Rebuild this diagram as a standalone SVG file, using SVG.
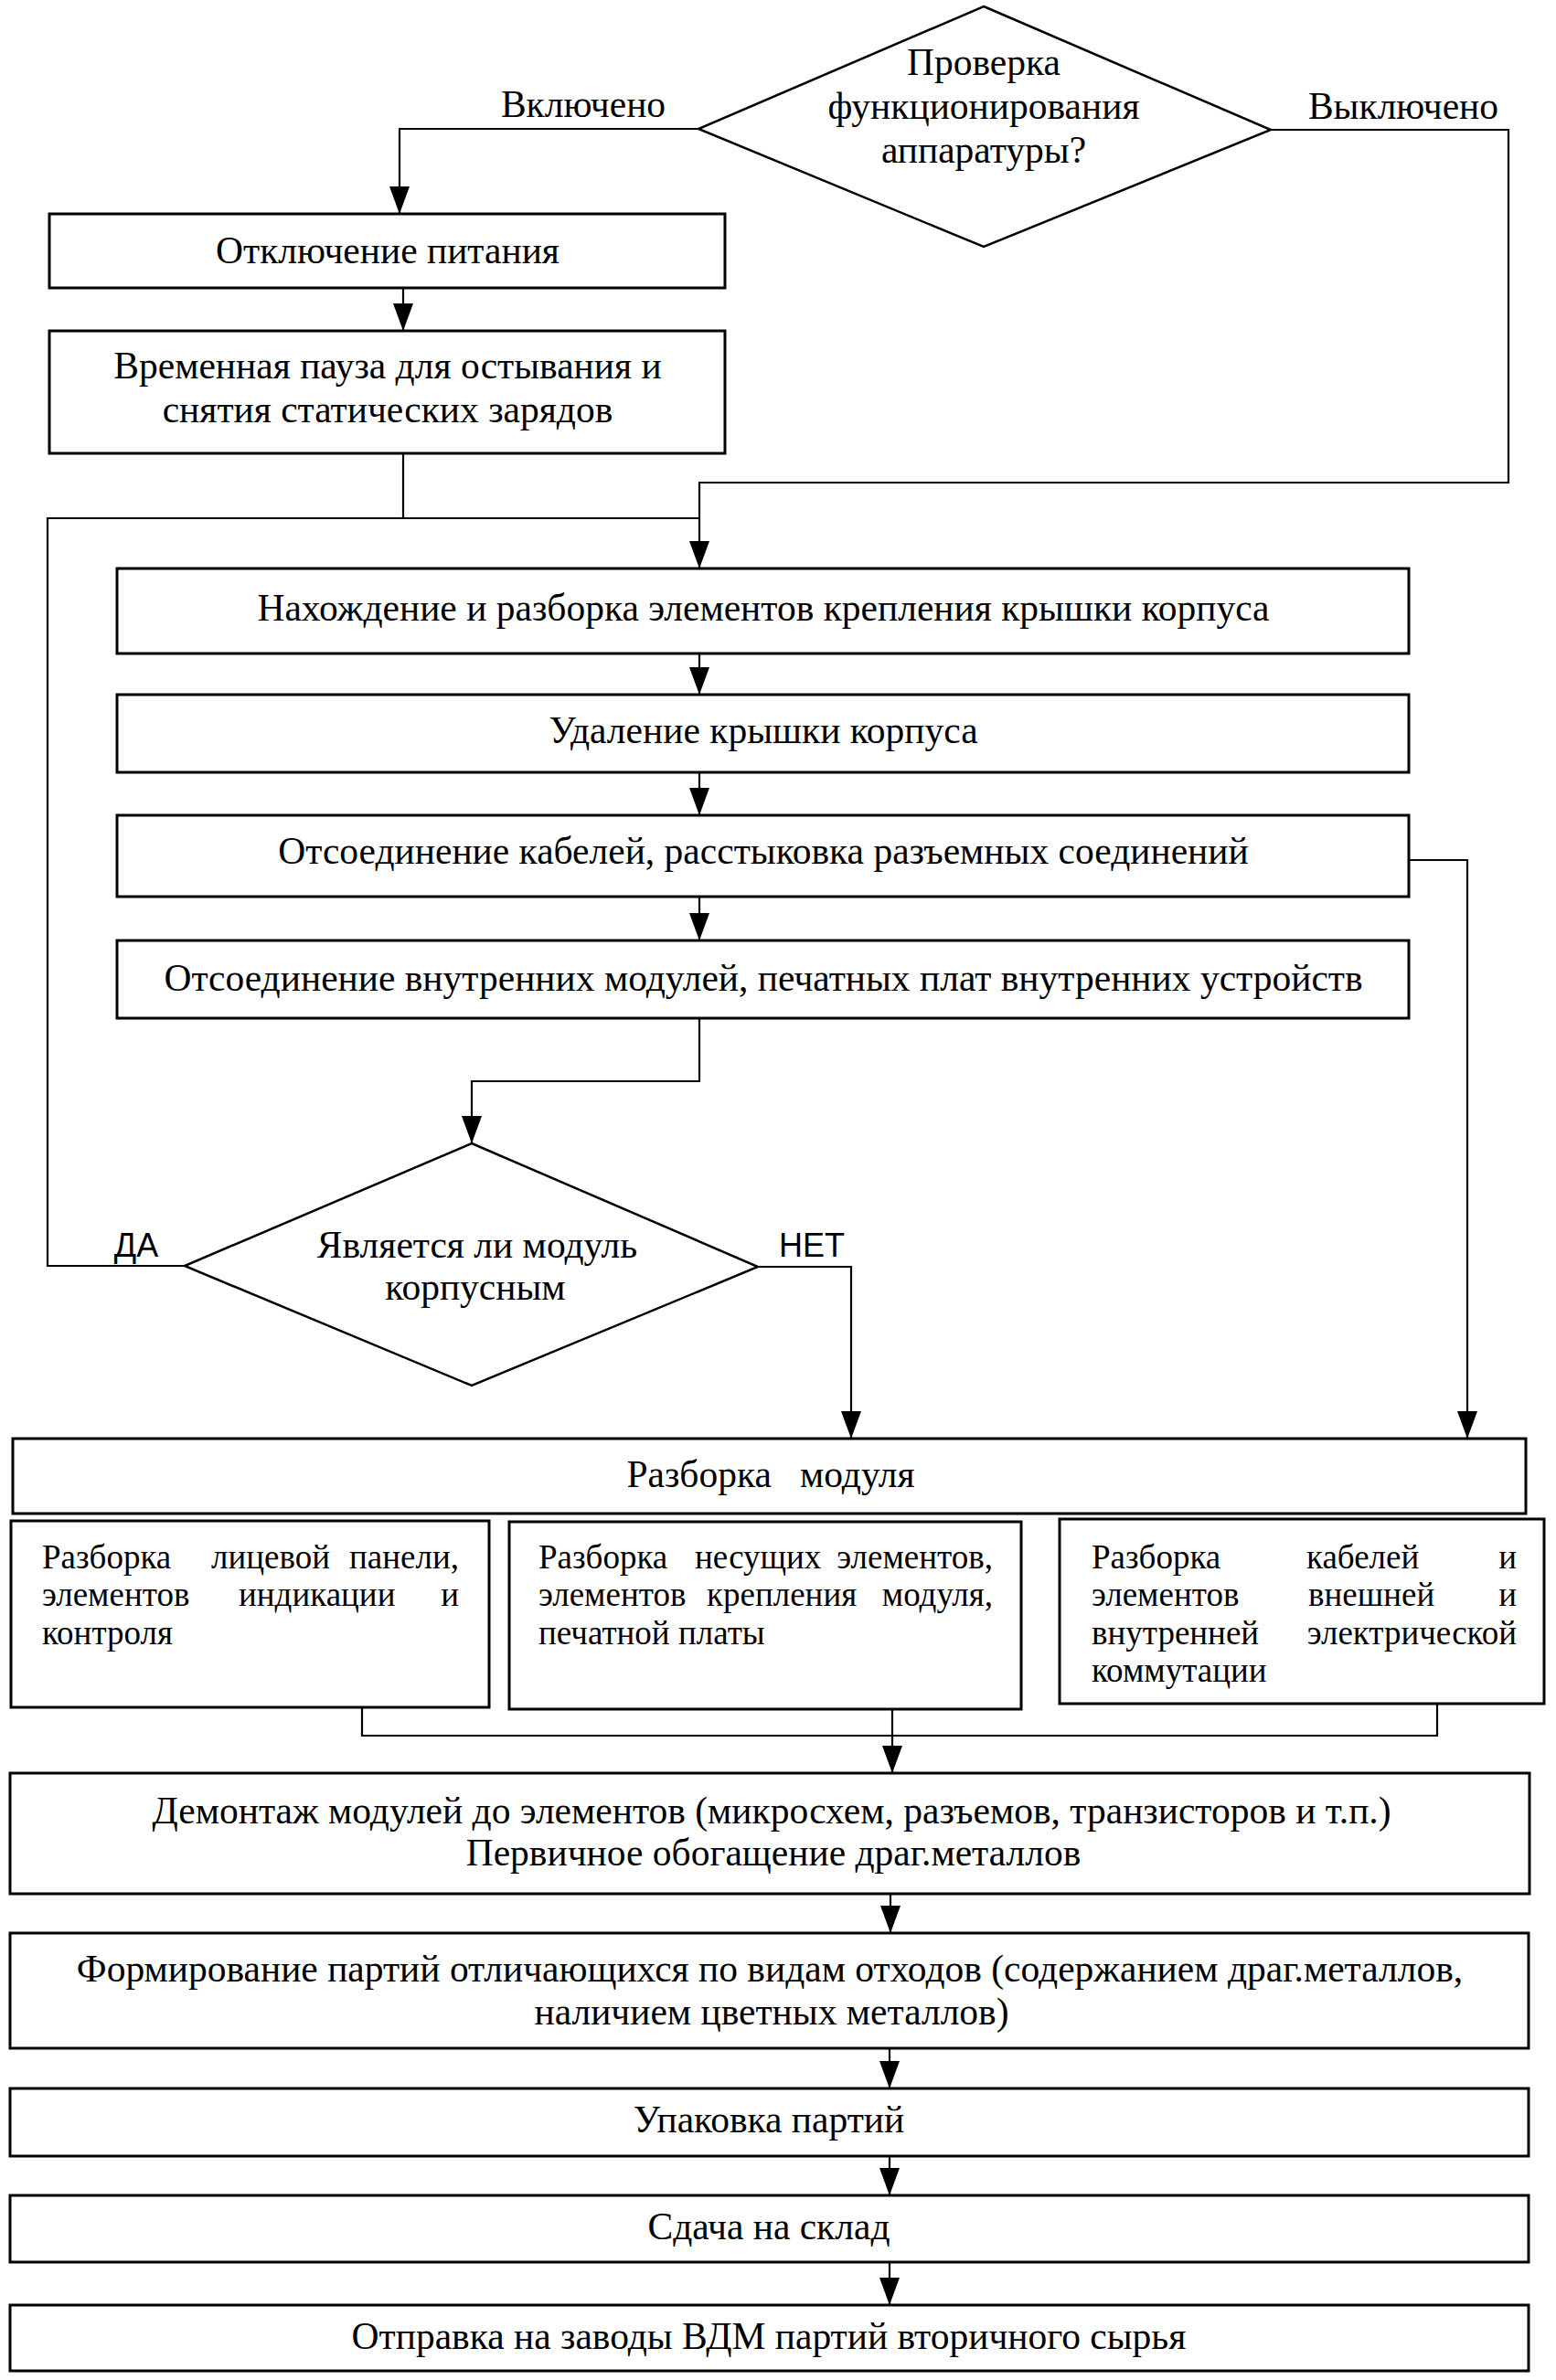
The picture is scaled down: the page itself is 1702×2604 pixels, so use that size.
<svg xmlns="http://www.w3.org/2000/svg" width="1702" height="2604" viewBox="0 0 1702 2604">
<style>
.b{fill:#fff;stroke:#000;stroke-width:3}
.d{fill:#fff;stroke:#000;stroke-width:2.5}
.c{fill:none;stroke:#000;stroke-width:2.2}
.t{font-family:"Liberation Serif","Times New Roman",serif;font-size:41.5px;fill:#000;stroke:none;text-anchor:middle}
.s{font-family:"Liberation Serif","Times New Roman",serif;font-size:37px;fill:#000;stroke:none}
.e{text-anchor:end}
.l{font-family:"Liberation Sans",Arial,sans-serif;font-size:36px;fill:#000;stroke:none;text-anchor:middle}
</style>
<defs>
<marker id="ar" markerUnits="userSpaceOnUse" markerWidth="30" markerHeight="22" refX="30" refY="11" orient="auto">
<path d="M0,0 L30,11 L0,22 z" fill="#000" stroke="none"/>
</marker>
</defs>
<rect width="1702" height="2604" fill="#fff"/>
<g id="connectors">
<path class="c" d="M764,141 H437 V234" marker-end="url(#ar)"/>
<path class="c" d="M441,315 V362" marker-end="url(#ar)"/>
<path class="c" d="M441,496 V567"/>
<path class="c" d="M1390,142 H1650 V528 H765 V622" marker-end="url(#ar)"/>
<path class="c" d="M202,1385 H52 V567 H765"/>
<path class="c" d="M765,715 V760" marker-end="url(#ar)"/>
<path class="c" d="M765,845 V892" marker-end="url(#ar)"/>
<path class="c" d="M765,981 V1029" marker-end="url(#ar)"/>
<path class="c" d="M1541,941 H1605 V1574" marker-end="url(#ar)"/>
<path class="c" d="M765,1114 V1183 H516 V1251" marker-end="url(#ar)"/>
<path class="c" d="M829,1386 H931 V1574" marker-end="url(#ar)"/>
<path class="c" d="M396,1868 V1899 H1572 V1864"/>
<path class="c" d="M976,1870 V1940" marker-end="url(#ar)"/>
<path class="c" d="M974,2072 V2115" marker-end="url(#ar)"/>
<path class="c" d="M973,2241 V2285" marker-end="url(#ar)"/>
<path class="c" d="M973,2359 V2402" marker-end="url(#ar)"/>
<path class="c" d="M973,2475 V2522" marker-end="url(#ar)"/>
</g>
<g id="labels">
<text class="t" x="638" y="128">Включено</text>
<text class="t" x="1535" y="130">Выключено</text>
<text class="l" x="149" y="1375">ДА</text>
<text class="l" x="888" y="1375">НЕТ</text>
</g>
<g id="check_power">
<polygon class="d" points="1076,7 1390,142 1076,270 764,141"/>
<text class="t" x="1076" y="82">Проверка</text>
<text class="t" x="1076" y="130">функционирования</text>
<text class="t" x="1076" y="178">аппаратуры?</text>
</g>
<g id="power_off">
<rect class="b" x="54" y="234" width="739" height="81"/>
<text class="t" x="424" y="288">Отключение питания</text>
</g>
<g id="pause">
<rect class="b" x="54" y="362" width="739" height="134"/>
<text class="t" x="424" y="414">Временная пауза для остывания и</text>
<text class="t" x="424" y="462">снятия статических зарядов</text>
</g>
<g id="find_fasteners">
<rect class="b" x="128" y="622" width="1413" height="93"/>
<text class="t" x="835" y="679">Нахождение и разборка элементов крепления крышки корпуса</text>
</g>
<g id="remove_cover">
<rect class="b" x="128" y="760" width="1413" height="85"/>
<text class="t" x="835" y="813">Удаление крышки корпуса</text>
</g>
<g id="disconnect_cables">
<rect class="b" x="128" y="892" width="1413" height="89"/>
<text class="t" x="835" y="945">Отсоединение кабелей, расстыковка разъемных соединений</text>
</g>
<g id="disconnect_modules">
<rect class="b" x="128" y="1029" width="1413" height="85"/>
<text class="t" x="835" y="1084">Отсоединение внутренних модулей, печатных плат внутренних устройств</text>
</g>
<g id="is_cased">
<polygon class="d" points="516,1251 829,1386 516,1516 202,1385"/>
<text class="t" x="522" y="1376">Является ли модуль</text>
<text class="t" x="520" y="1422">корпусным</text>
</g>
<g id="module_disassembly">
<rect class="b" x="14" y="1574" width="1655" height="82"/>
<text class="t" x="843" y="1627" xml:space="preserve">Разборка   модуля</text>
</g>
<g id="front_panel">
<rect class="b" x="12" y="1664" width="523" height="204"/>
<text class="s" x="46" y="1716">Разборка</text>
<text class="s" x="231" y="1716">лицевой</text>
<text class="s e" x="502" y="1716">панели,</text>
<text class="s" x="46" y="1757">элементов</text>
<text class="s" x="261" y="1757">индикации</text>
<text class="s e" x="502" y="1757">и</text>
<text class="s" x="46" y="1799">контроля</text>
</g>
<g id="bearing_elements">
<rect class="b" x="557" y="1665" width="560" height="205"/>
<text class="s" x="589" y="1716">Разборка</text>
<text class="s" x="760" y="1716">несущих</text>
<text class="s e" x="1086" y="1716">элементов,</text>
<text class="s" x="589" y="1757">элементов</text>
<text class="s" x="773" y="1757">крепления</text>
<text class="s e" x="1086" y="1757">модуля,</text>
<text class="s" x="589" y="1799">печатной платы</text>
</g>
<g id="cables">
<rect class="b" x="1159" y="1662" width="530" height="202"/>
<text class="s" x="1194" y="1716">Разборка</text>
<text class="s" x="1429" y="1716">кабелей</text>
<text class="s e" x="1659" y="1716">и</text>
<text class="s" x="1194" y="1757">элементов</text>
<text class="s" x="1431" y="1757">внешней</text>
<text class="s e" x="1659" y="1757">и</text>
<text class="s" x="1194" y="1799">внутренней</text>
<text class="s e" x="1659" y="1799">электрической</text>
<text class="s" x="1194" y="1840">коммутации</text>
</g>
<g id="dismantling">
<rect class="b" x="11" y="1940" width="1662" height="132"/>
<text class="t" x="844" y="1995">Демонтаж модулей до элементов (микросхем, разъемов, транзисторов и т.п.)</text>
<text class="t" x="846" y="2041">Первичное обогащение драг.металлов</text>
</g>
<g id="batches">
<rect class="b" x="11" y="2115" width="1661" height="126"/>
<text class="t" x="842" y="2168">Формирование партий отличающихся по видам отходов (содержанием драг.металлов,</text>
<text class="t" x="844" y="2215">наличием цветных металлов)</text>
</g>
<g id="packing">
<rect class="b" x="11" y="2285" width="1661" height="74"/>
<text class="t" x="841" y="2333">Упаковка партий</text>
</g>
<g id="warehouse">
<rect class="b" x="11" y="2402" width="1661" height="73"/>
<text class="t" x="841" y="2450">Сдача на склад</text>
</g>
<g id="shipping">
<rect class="b" x="11" y="2522" width="1661" height="72"/>
<text class="t" x="841" y="2570">Отправка на заводы ВДМ партий вторичного сырья</text>
</g>
</svg>
